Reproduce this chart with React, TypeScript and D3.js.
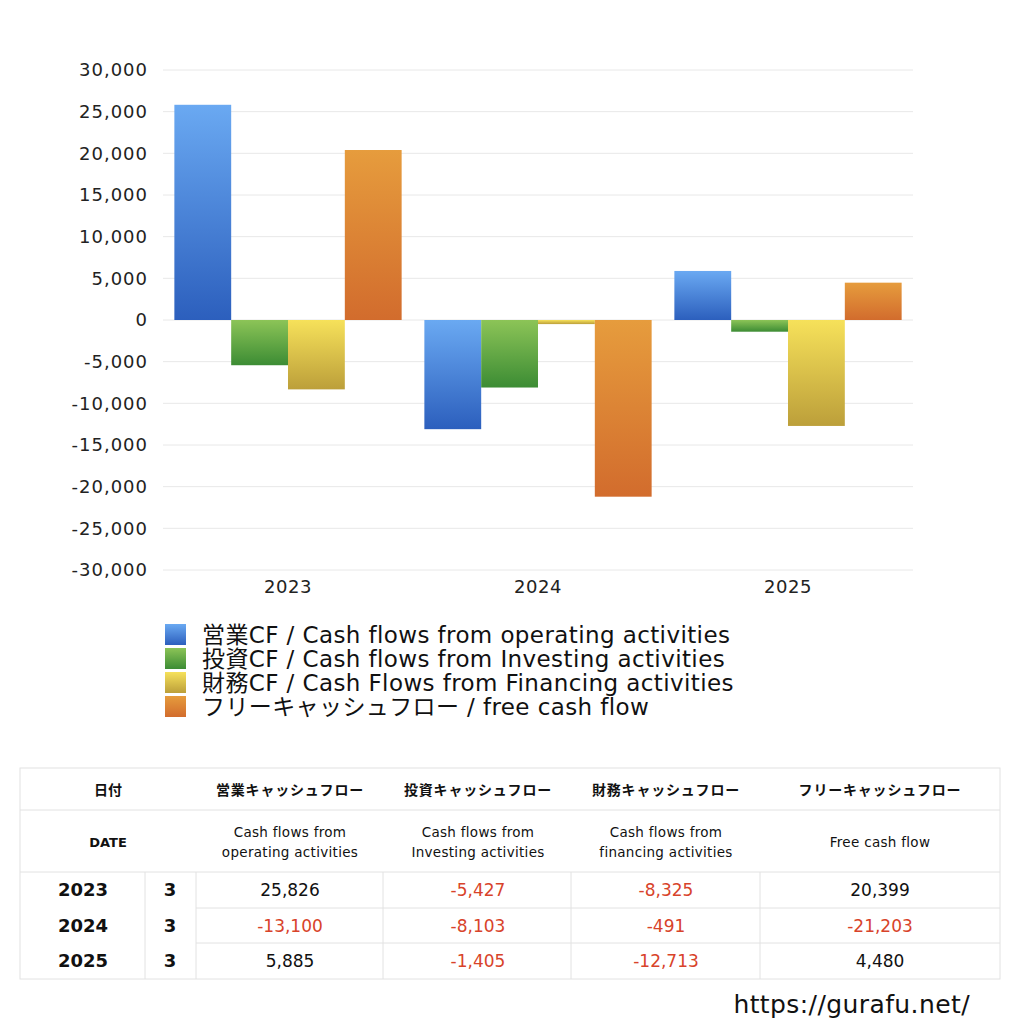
import React from 'react';
import * as d3 from 'd3';

// Chart data
const years = ['2023', '2024', '2025'];
const months = ['3', '3', '3'];
const seriesKeys = ['operating', 'investing', 'financing', 'free'];
const operatingCF = [25826, -13100, 5885];
const investingCF = [-5427, -8103, -1405];
const financingCF = [-8325, -491, -12713];
const freeCF = [20399, -21203, 4480];
const yTicks = [30000, 25000, 20000, 15000, 10000, 5000, 0, -5000, -10000, -15000, -20000, -25000, -30000];

const legendLabels = [
  '営業CF / Cash flows from operating activities',
  '投資CF / Cash flows from Investing activities',
  '財務CF / Cash Flows from Financing activities',
  'フリーキャッシュフロー / free cash flow',
];
const tableHeadJa = ['営業キャッシュフロー', '投資キャッシュフロー', '財務キャッシュフロー', 'フリーキャッシュフロー'];
const tableHeadEn = [
  ['Cash flows from', 'operating activities'],
  ['Cash flows from', 'Investing activities'],
  ['Cash flows from', 'financing activities'],
  ['Free cash flow'],
];

// Gradient stops (top, bottom) per series
const gradients = [
  ['#6aa9f2', '#2c5fbd'],
  ['#8cc457', '#3c8c34'],
  ['#f6e15a', '#bc9f3a'],
  ['#e69c3d', '#d26c2d'],
];

const font = '"DejaVu Sans", "Noto Sans CJK JP", sans-serif';
const jaFont = '"Noto Sans CJK JP", sans-serif';
const width = 1024;
const height = 1024;
const margin = { top: 70, left: 163, right: 111, bottom: 454 };

// hyphen instead of unicode minus, like the original
const fmt = (v: number) => d3.format(',')(v).replace('−', '-');

const App: React.FC = () => {
  const seriesValues = [operatingCF, investingCF, financingCF, freeCF];

  const x = d3.scaleBand<string>()
    .domain(years)
    .range([margin.left, width - margin.right])
    .padding(0);
  const xInner = d3.scaleBand<string>()
    .domain(seriesKeys)
    .range([0, x.bandwidth()])
    .paddingInner(0)
    .paddingOuter(0.2);
  const y = d3.scaleLinear()
    .domain([-30000, 30000])
    .range([height - margin.bottom, margin.top]);

  // Table layout
  const tLeft = 20;
  const tRight = 1000;
  const colEdges = [20, 145, 196, 383, 571, 760, 1000];
  const valueCenters = [290, 478, 666, 880];
  const rowTops = [768, 810, 872, 908, 943, 979];
  const gridColor = '#e2e2e2';

  return (
    <svg width={width} height={height} style={{ position: 'absolute', left: 0, top: 0 }} fontFamily={font}>
      <defs>
        {gradients.map(([top, bottom], i) => (
          <linearGradient key={i} id={`grad-${i}`} x1="0" y1="0" x2="0" y2="1">
            <stop offset="0%" stopColor={top} />
            <stop offset="100%" stopColor={bottom} />
          </linearGradient>
        ))}
      </defs>
      <rect width={width} height={height} fill="#fff" />

      {/* Grid and y axis labels */}
      {yTicks.map((t) => (
        <g key={t}>
          <line x1={margin.left} x2={width - margin.right} y1={y(t)} y2={y(t)} stroke="#e8e8e8" strokeWidth={1} />
          <text x={148} y={y(t)} dy="0.36em" textAnchor="end" fontSize={18} letterSpacing={1} fill="#222">{fmt(t)}</text>
        </g>
      ))}

      {/* Bars */}
      {years.map((yr, i) => (
        <g key={yr} transform={`translate(${x(yr)},0)`}>
          {seriesKeys.map((k, s) => {
            const v = seriesValues[s][i];
            return (
              <rect
                key={k}
                x={xInner(k)}
                width={xInner.bandwidth()}
                y={Math.min(y(v), y(0))}
                height={Math.abs(y(v) - y(0))}
                fill={`url(#grad-${s})`}
              />
            );
          })}
        </g>
      ))}

      {/* X axis labels */}
      {years.map((yr) => (
        <text key={yr} x={(x(yr) ?? 0) + x.bandwidth() / 2} y={593} textAnchor="middle" fontSize={18} letterSpacing={0.5} fill="#222">{yr}</text>
      ))}

      {/* Legend */}
      {legendLabels.map((label, i) => (
        <g key={label} transform={`translate(165,${624 + i * 24})`}>
          <rect width={21} height={21} fill={`url(#grad-${i})`} />
          <text x={37} y={10.5} dy="0.36em" fontSize={23} letterSpacing={0.4} fill="#111">{label}</text>
        </g>
      ))}

      {/* Table */}
      <g>
        <rect x={tLeft} y={rowTops[0]} width={tRight - tLeft} height={rowTops[5] - rowTops[0]} fill="none" stroke={gridColor} />
        <line x1={tLeft} x2={tRight} y1={rowTops[1]} y2={rowTops[1]} stroke={gridColor} />
        <line x1={tLeft} x2={tRight} y1={rowTops[2]} y2={rowTops[2]} stroke={gridColor} />
        <line x1={colEdges[2]} x2={tRight} y1={rowTops[3]} y2={rowTops[3]} stroke={gridColor} />
        <line x1={colEdges[2]} x2={tRight} y1={rowTops[4]} y2={rowTops[4]} stroke={gridColor} />
        {colEdges.slice(1, 6).map((cx) => (
          <line key={cx} x1={cx} x2={cx} y1={rowTops[2]} y2={rowTops[5]} stroke={gridColor} />
        ))}

        <text x={108} y={790} dy="0.35em" textAnchor="middle" fontSize={14} fontWeight={700} fill="#111" fontFamily={jaFont}>日付</text>
        <text x={108} y={842} dy="0.35em" textAnchor="middle" fontSize={13} fontWeight={700} fill="#111">DATE</text>
        {tableHeadJa.map((h, c) => (
          <text key={h} x={valueCenters[c]} y={790} dy="0.35em" textAnchor="middle" fontSize={14} fontWeight={700} fill="#111" fontFamily={jaFont} letterSpacing={0.8}>{h}</text>
        ))}
        {tableHeadEn.map((lines, c) => (
          <text key={c} x={valueCenters[c]} textAnchor="middle" fontSize={13.5} letterSpacing={0.3} fill="#111">
            {lines.map((ln, li) => (
              <tspan
                key={ln}
                x={valueCenters[c]}
                y={lines.length === 1 ? 842 : 832 + li * 20}
                dy="0.35em"
              >
                {ln}
              </tspan>
            ))}
          </text>
        ))}

        {years.map((yr, r) => {
          const cy = (rowTops[2 + r] + rowTops[3 + r]) / 2;
          return (
            <g key={yr}>
              <text x={83} y={cy} dy="0.36em" textAnchor="middle" fontSize={18} fontWeight={700} fill="#111">{yr}</text>
              <text x={170} y={cy} dy="0.36em" textAnchor="middle" fontSize={18} fontWeight={700} fill="#111">{months[r]}</text>
              {seriesValues.map((vals, c) => (
                <text
                  key={c}
                  x={valueCenters[c]}
                  y={cy}
                  dy="0.36em"
                  textAnchor="middle"
                  fontSize={17}
                  fill={vals[r] < 0 ? '#d8432a' : '#111'}
                >
                  {fmt(vals[r])}
                </text>
              ))}
            </g>
          );
        })}
      </g>

      <text x={970} y={1004} dy="0.35em" textAnchor="end" fontSize={25} letterSpacing={0.4} fill="#111">https://gurafu.net/</text>
    </svg>
  );
};

export default App;
